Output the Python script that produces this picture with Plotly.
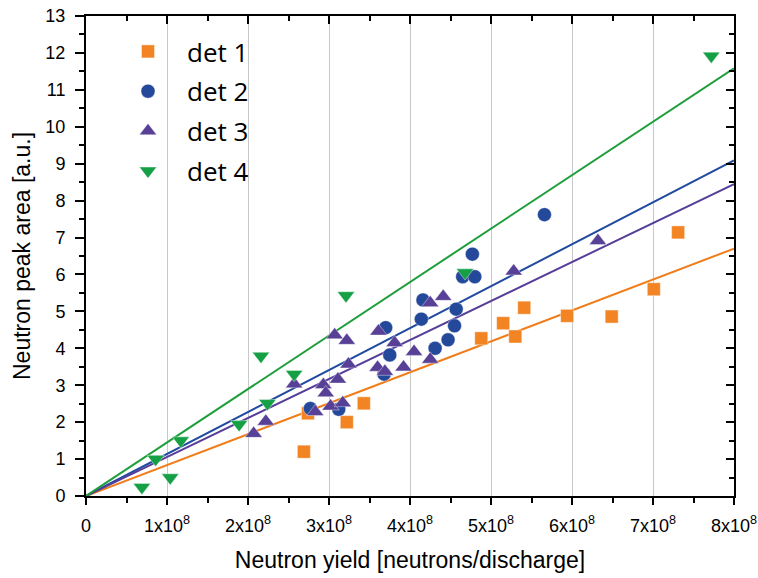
import numpy as np
import plotly.graph_objects as go

# ---- data (neutron yield in units of 1e8, peak area a.u.) ----
det1_x = [2.69, 2.74, 3.22, 3.43, 4.88, 5.15, 5.30, 5.41, 5.94, 6.49, 7.01, 7.31]
det1_y = [1.20, 2.24, 2.00, 2.51, 4.27, 4.68, 4.32, 5.10, 4.88, 4.86, 5.60, 7.14]

det2_x = [2.77, 3.12, 3.68, 3.70, 3.75, 4.14, 4.16, 4.31, 4.47, 4.55, 4.57, 4.65, 4.77, 4.80, 5.66]
det2_y = [2.37, 2.35, 3.30, 4.56, 3.82, 4.79, 5.31, 4.00, 4.23, 4.61, 5.06, 5.94, 6.55, 5.94, 7.62]

det3_x = [2.07, 2.22, 2.57, 2.83, 2.93, 2.96, 3.02, 3.07, 3.11, 3.17, 3.22, 3.24,
          3.61, 3.60, 3.69, 3.81, 3.92, 4.05, 4.25, 4.25, 4.41, 5.28, 6.32]
det3_y = [1.69, 2.02, 3.03, 2.28, 3.01, 2.79, 2.43, 4.36, 3.16, 2.52, 4.21, 3.57,
          4.46, 3.48, 3.37, 4.15, 3.49, 3.91, 3.70, 5.23, 5.40, 6.09, 6.91]

det4_x = [0.69, 0.86, 1.04, 1.17, 1.89, 2.16, 2.24, 2.57, 3.21, 4.68, 7.72]
det4_y = [0.24, 1.00, 0.50, 1.50, 1.94, 3.79, 2.51, 3.30, 5.43, 6.05, 11.92]

names = ["det 1", "det 2", "det 3", "det 4"]
scale = 1e8
x_range = [0, 8e8]
y_range = [0, 13]
x_tickvals = [0, 1, 2, 3, 4, 5, 6, 7, 8]
x_ticktext = ["0"] + [f"{k}x10<sup>8</sup>" for k in range(1, 9)]

series = [
    (det1_x, det1_y, "square", "#F28423", "#F07D1A", 13),
    (det2_x, det2_y, "circle", "#24499B", "#1F4AA0", 14),
    (det3_x, det3_y, "triangle-up", "#574096", "#563E98", 15),
    (det4_x, det4_y, "triangle-down", "#16A046", "#1E9E3A", 15),
]

fig = go.Figure()

# fitted lines through origin
for (xs, ys, sym, mc, lc, ms), nm in zip(series, names):
    x = np.array(xs) * scale
    y = np.array(ys)
    slope = np.sum(x * y) / np.sum(x * x)
    lx = np.array(x_range, dtype=float)
    fig.add_trace(go.Scatter(x=lx, y=slope * lx, mode="lines",
                             line=dict(color=lc, width=2), showlegend=False,
                             hoverinfo="skip"))

for (xs, ys, sym, mc, lc, ms), nm in zip(series, names):
    fig.add_trace(go.Scatter(x=np.array(xs) * scale, y=ys, mode="markers", name=nm,
                             legendgroup=nm,
                             marker=dict(symbol=sym, color=mc, size=ms,
                                         line=dict(width=0.8, color="rgba(255,255,255,0.5)"))))

# dummy trace for mirrored (inside-tick) top/right axes
fig.add_trace(go.Scatter(x=[None], y=[None], xaxis="x2", yaxis="y2",
                         showlegend=False, hoverinfo="skip"))

tickfont = dict(family="Liberation Sans, Arial", size=18, color="black")
titlefont = dict(family="Liberation Sans, Arial", size=23, color="black")

fig.update_layout(
    width=758, height=578,
    margin=dict(l=86, r=24, t=16, b=82),
    paper_bgcolor="white", plot_bgcolor="white",
    font=dict(family="Liberation Sans, Arial", color="black"),
    xaxis=dict(range=x_range, tickvals=[v * scale for v in x_tickvals], ticktext=x_ticktext,
               ticks="outside", ticklen=7, tickwidth=1.5, tickcolor="black",
               minor=dict(dtick=0.5 * scale, ticks="outside", ticklen=5, tickwidth=1.5,
                          tickcolor="black", showgrid=False),
               showline=True, linecolor="black", linewidth=2,
               showgrid=True, gridcolor="#C8C8C8", gridwidth=1,
               zeroline=False, tickfont=tickfont, automargin=False,
               ticklabelstandoff=5,
               title=dict(text="Neutron yield [neutrons/discharge]",
                          font=titlefont, standoff=17)),
    yaxis=dict(range=y_range, dtick=1, ticks="outside", ticklen=9, tickwidth=1.5,
               tickcolor="black",
               minor=dict(dtick=0.5, ticks="outside", ticklen=5, tickwidth=1.5,
                          tickcolor="black", showgrid=False),
               showline=True, linecolor="black", linewidth=2,
               showgrid=False, zeroline=False, tickfont=tickfont, automargin=False,
               ticklabelstandoff=6,
               title=dict(text="Neutron peak area [a.u.]",
                          font=titlefont, standoff=8)),
    xaxis2=dict(range=x_range, overlaying="x", side="top", anchor="y2",
                tickvals=[v * scale for v in x_tickvals], showticklabels=False,
                ticks="inside", ticklen=8, tickwidth=1.5, tickcolor="black",
                minor=dict(dtick=0.5 * scale, ticks="inside", ticklen=5, tickwidth=1.5,
                           tickcolor="black", showgrid=False),
                showline=True, linecolor="black", linewidth=2, showgrid=False,
                zeroline=False, automargin=False),
    yaxis2=dict(range=y_range, overlaying="y", side="right", anchor="x2", dtick=1,
                showticklabels=False, ticks="inside", ticklen=8, tickwidth=1.5,
                tickcolor="black",
                minor=dict(dtick=0.5, ticks="inside", ticklen=5, tickwidth=1.5,
                           tickcolor="black", showgrid=False),
                showline=True, linecolor="black", linewidth=2, showgrid=False,
                zeroline=False, automargin=False),
    legend=dict(x=0.0355, y=0.975, xanchor="left", yanchor="top",
                bgcolor="rgba(0,0,0,0)", traceorder="grouped", tracegroupgap=3,
                itemwidth=68,
                font=dict(family="Open Sans, Noto Sans", size=26, color="black")),
)

fig.write_html("out.html")
